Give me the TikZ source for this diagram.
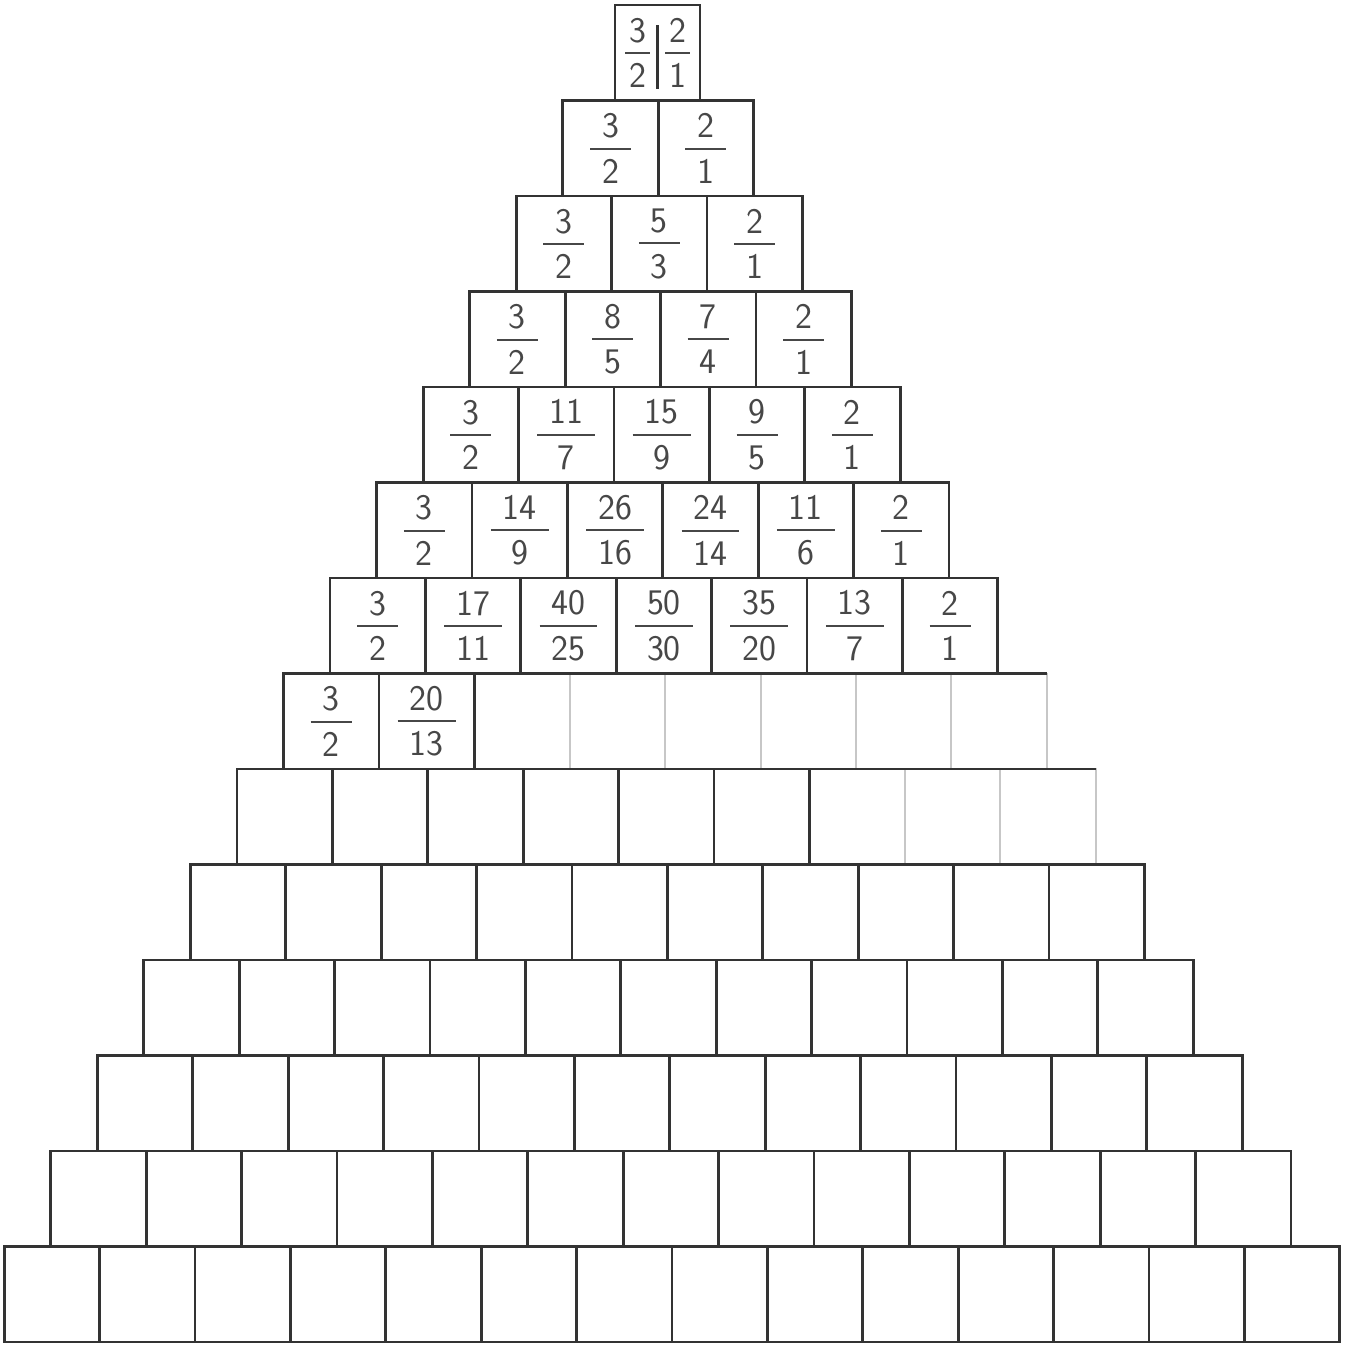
\documentclass[tikz,border=0pt]{standalone}
\usepackage{amsmath}
\usepackage{xcolor}
\usepackage{tikz}
\usetikzlibrary{positioning}

\newcommand{\fr}[3][6pt]{$\genfrac{}{}{1pt}{1}%
		{\textstyle\rule[-4pt]{0pt}{4pt}\hspace{#1}\textsf{#2}\hspace{#1}}%
		{\textstyle\rule{0pt}{15.8pt}\hspace{#1}\textsf{#3}\hspace{#1}}$}

\begin{document}
\begin{tikzpicture}[
		x=0.5pt, y=-0.5pt,
		cell/.style={minimum width=47.7pt, minimum height=47.75pt,
				inner sep=0pt, outer sep=0pt, anchor=north west},
		kind0/.style={draw=black!80, line width=1.4pt},
		kind1/.style={draw=black!22, line width=1pt},
		edge/.style={black!80, line width=1.4pt},
		num/.style={font=\fontsize{18}{22}\selectfont, text=black!72}
		]
		\useasboundingbox (0,0) rectangle (1351,1350);
		% top brick
		\node[cell, kind0, minimum width=42.5pt] (top) at (615,5) {};
		\node[num, inner sep=0pt] (tl) at ([xshift=-10pt]top.center) {\fr[2pt]{3}{2}};
		\node[num, inner sep=0pt] (tr) at ([xshift=10pt]top.center) {\fr[2pt]{2}{1}};
		\draw[edge, line width=1.1pt] ([yshift=-10pt]top.north) -- ([yshift=6pt]top.south);
		% rows 2..14
		\foreach \r in {2,...,14}
		\foreach \k in {1,...,\r} {
				\pgfmathsetmacro\xl{672-(14-\r)*1.15-\r*47.7+(\k-1)*95.4}
				\pgfmathsetmacro\yt{5+(\r-1)*95.5}
				\pgfmathtruncatemacro\lite{(\r==8 && \k>2) || (\r==9 && \k>6)}
				\ifnum\lite=1
					\node[cell, kind1] (c-\r-\k) at (\xl,\yt) {};
				\else
					\node[cell, kind0] (c-\r-\k) at (\xl,\yt) {};
				\fi
			}
		% dark lines over the pale bricks
		\draw[edge] (c-8-1.north west) -- (c-8-8.north east);
		\draw[edge] (c-9-1.north west) -- (c-9-9.north east);
		\draw[edge] (c-8-2.north east) -- (c-8-2.south east);
		\draw[edge] (c-9-6.north east) -- (c-9-6.south east);
		% fractions
		\foreach \r/\k/\n/\d in {2/1/3/2, 2/2/2/1,
				3/1/3/2, 3/2/5/3, 3/3/2/1,
				4/1/3/2, 4/2/8/5, 4/3/7/4, 4/4/2/1,
				5/1/3/2, 5/2/11/7, 5/3/15/9, 5/4/9/5, 5/5/2/1,
				6/1/3/2, 6/2/14/9, 6/3/26/16, 6/4/24/14, 6/5/11/6, 6/6/2/1,
				7/1/3/2, 7/2/17/11, 7/3/40/25, 7/4/50/30, 7/5/35/20, 7/6/13/7, 7/7/2/1,
				8/1/3/2, 8/2/20/13}
		\node[num] (f-\r-\k) at (c-\r-\k) {\fr{\n}{\d}};
	\end{tikzpicture}
\end{document}
